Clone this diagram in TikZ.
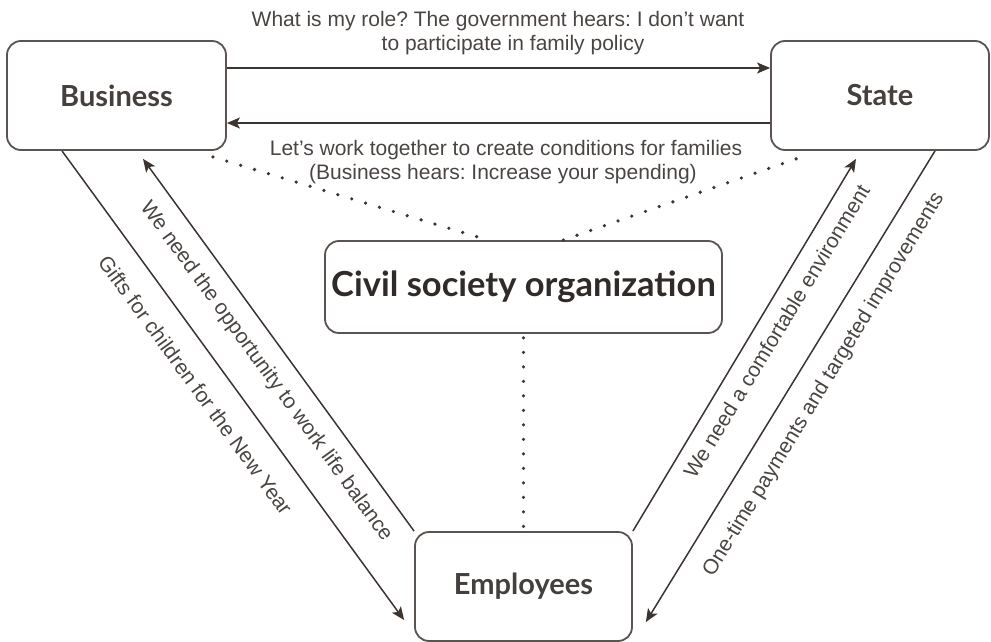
\documentclass[tikz,border=0pt]{standalone}
\usepackage{fontspec}
\setmainfont{Liberation Sans}
\newfontfamily\boxfont{Lato}
\usetikzlibrary{arrows.meta}
\definecolor{linec}{HTML}{3B3431}
\definecolor{boxc}{HTML}{5A5350}
\definecolor{txtc}{HTML}{4A4542}
\definecolor{btxt}{HTML}{45403D}
\definecolor{ctxt}{HTML}{302B28}
\frenchspacing
\begin{document}
\begin{tikzpicture}[x=1pt,y=-1pt,
  box/.style={draw=boxc, line width=1.8pt, rounded corners=14pt, fill=white, inner sep=0pt},
  conn/.style={draw=linec, line width=1.5pt, -{Stealth[length=13pt,width=11pt,inset=3pt]}},
  dots/.style={draw=linec, line width=3.6pt, line cap=round, dash pattern=on 0pt off 14.5pt},
  lbl/.style={text=txtc, font=\fontsize{21}{24}\selectfont, inner sep=0pt},
  blbl/.style={text=btxt, font=\boxfont\bfseries\fontsize{29}{32}\selectfont}
]
\useasboundingbox (0,0) rectangle (991,642);

% boxes
\node[box, blbl, minimum width=219pt, minimum height=109pt] (bus) at (116.5,95.5) {Business};
\node[box, blbl, minimum width=218pt, minimum height=109pt] (st) at (880,95.5) {State};
\node[box, blbl, minimum width=217pt, minimum height=109pt] (emp) at (523.5,586.5) {Employees};
\node[box, text=ctxt, font=\boxfont\bfseries\fontsize{34.5}{38}\selectfont,
      minimum width=397pt, minimum height=92pt] (civ) at (523.5,287) {\raisebox{5pt}{Civil society organization}};

% horizontal arrows
\draw[conn] ([yshift=27.5pt]bus.east) -- ([yshift=27.5pt]st.west);
\draw[conn] ([yshift=-27.5pt]st.west) -- ([yshift=-27.5pt]bus.east);

% diagonal arrows
\draw[conn] ([xshift=-54.5pt]bus.south) -- ([xshift=-10pt,yshift=-33.5pt]emp.west);
\draw[conn] (emp.north west) -- ([xshift=26.5pt,yshift=-8pt]bus.south);
\draw[conn] (emp.north east) -- ([xshift=-24pt,yshift=-8pt]st.south);
\draw[conn] ([xshift=55pt]st.south) -- ([xshift=13pt,yshift=-35.5pt]emp.east);

% dotted links
\draw[dots] ([xshift=-14pt,yshift=-6pt]bus.south east) -- ([xshift=-35.5pt]civ.north);
\draw[dots] ([xshift=26pt,yshift=-8pt]st.south west) -- ([xshift=39.5pt]civ.north);
\draw[dots] ([yshift=-4pt]civ.south) -- (emp.north);

% labels
\node[lbl, anchor=base] (t1) at (498,27) {What is my role? The government hears: I don't want};
\node[lbl, anchor=base] (t2) at (513,50.5) {to participate in family policy};
\node[lbl, anchor=base] (t3) at (506,155) {Let’s work together to create conditions for families};
\node[lbl, anchor=base] (t4) at (503,179) {(Business hears: Increase your spending)};

\node[lbl, rotate=-54] (l1) at (195.5,385) {Gifts for children for the New Year};
\node[lbl, rotate=-54] (l2) at (266,371.5) {We need the opportunity to work life balance};
\node[lbl, rotate=58.7] (l3) at (776.5,331.5) {We need a comfortable environment};
\node[lbl, rotate=58.7] (l4) at (824,385) {One-time payments and targeted improvements};
\end{tikzpicture}
\end{document}
